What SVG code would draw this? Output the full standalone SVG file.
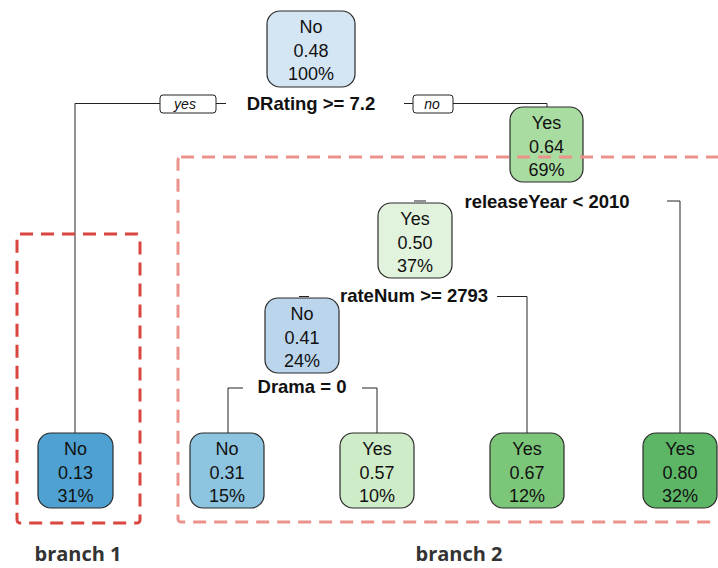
<svg xmlns="http://www.w3.org/2000/svg" width="718" height="568" viewBox="0 0 718 568">
  <style>
    .node rect { stroke: #2b2b2b; stroke-width: 1.2; }
    .node text { font-family: "Liberation Sans", Arial, sans-serif; font-size: 18px; fill: #111; text-anchor: middle; }
    .split { font-family: "Liberation Sans", Arial, sans-serif; font-size: 18.5px; font-weight: bold; fill: #111; text-anchor: middle; }
    .edge { fill: none; stroke: #222; stroke-width: 1; }
    .tag rect { fill: #fff; stroke: #222; stroke-width: 1; }
    .tag text { font-family: "Liberation Sans", Arial, sans-serif; font-size: 14px; font-style: italic; fill: #111; text-anchor: middle; }
    .branch { fill: none; stroke-width: 3; stroke-dasharray: 13 8; }
    .caption { font-family: "Open Sans", "Noto Sans", sans-serif; font-size: 20px; font-weight: bold; fill: #333; text-anchor: middle; }
  </style>

  <!-- connectors -->
  <g id="connectors">
    <!-- root split -->
    <path class="edge" d="M75,433 V103.5 H160"/>
    <path class="edge" d="M216,103.5 H226"/>
    <path class="edge" d="M404,103.5 H413"/>
    <path class="edge" d="M453,103.5 H547 V108"/>
    <!-- releaseYear split -->
    <path class="edge" d="M414,201 H426"/>
    <path class="edge" d="M667,201 H680 V433"/>
    <!-- rateNum split -->
    <path class="edge" d="M299,296.5 H309"/>
    <path class="edge" d="M497,296.5 H527 V433"/>
    <!-- Drama split -->
    <path class="edge" d="M243,388 H228 V433"/>
    <path class="edge" d="M362,388 H377 V433"/>
    <!-- yes / no tags -->
    <g class="tag">
      <rect x="160" y="95" width="56" height="18" rx="3"/>
      <text x="185" y="109">yes</text>
    </g>
    <g class="tag">
      <rect x="413" y="95" width="40" height="18" rx="3"/>
      <text x="432" y="109">no</text>
    </g>
  </g>

  <!-- split labels -->
  <text class="split" x="311" y="110">DRating &gt;= 7.2</text>
  <text class="split" x="547" y="208">releaseYear &lt; 2010</text>
  <text class="split" x="414" y="302">rateNum &gt;= 2793</text>
  <text class="split" x="302" y="393">Drama = 0</text>

  <!-- internal nodes -->
  <g id="node-root" class="node">
    <rect x="267" y="11" width="88" height="76" rx="13" fill="#d4e6f4"/>
    <text x="311" y="33">No</text>
    <text x="311" y="56.5">0.48</text>
    <text x="311" y="80">100%</text>
  </g>
  <g id="node-yes064" class="node">
    <rect x="510" y="107" width="73" height="75" rx="13" fill="#a9dca1"/>
    <text x="546.5" y="129">Yes</text>
    <text x="546.5" y="152.5">0.64</text>
    <text x="546.5" y="176">69%</text>
  </g>
  <g id="node-yes050" class="node">
    <rect x="378" y="203" width="74" height="75" rx="13" fill="#e1f3dc"/>
    <text x="415" y="225">Yes</text>
    <text x="415" y="248.5">0.50</text>
    <text x="415" y="272">37%</text>
  </g>
  <g id="node-no041" class="node">
    <rect x="265" y="298" width="74" height="75" rx="13" fill="#bbd5ec"/>
    <text x="302" y="320">No</text>
    <text x="302" y="343.5">0.41</text>
    <text x="302" y="367">24%</text>
  </g>

  <!-- leaves -->
  <g id="leaf-no013" class="node">
    <rect x="38" y="433" width="75" height="75" rx="13" fill="#4ea1d0"/>
    <text x="75.5" y="455">No</text>
    <text x="75.5" y="478.5">0.13</text>
    <text x="75.5" y="502">31%</text>
  </g>
  <g id="leaf-no031" class="node">
    <rect x="190" y="433" width="74" height="75" rx="13" fill="#8dc4df"/>
    <text x="227" y="455">No</text>
    <text x="227" y="478.5">0.31</text>
    <text x="227" y="502">15%</text>
  </g>
  <g id="leaf-yes057" class="node">
    <rect x="340" y="433" width="74" height="75" rx="13" fill="#cfecc8"/>
    <text x="377" y="455">Yes</text>
    <text x="377" y="478.5">0.57</text>
    <text x="377" y="502">10%</text>
  </g>
  <g id="leaf-yes067" class="node">
    <rect x="490" y="433" width="74" height="75" rx="13" fill="#7cc67a"/>
    <text x="527" y="455">Yes</text>
    <text x="527" y="478.5">0.67</text>
    <text x="527" y="502">12%</text>
  </g>
  <g id="leaf-yes080" class="node">
    <rect x="643" y="433" width="74" height="75" rx="13" fill="#5db566"/>
    <text x="680" y="455">Yes</text>
    <text x="680" y="478.5">0.80</text>
    <text x="680" y="502">32%</text>
  </g>

  <!-- branch outlines -->
  <g id="branch-1">
    <rect class="branch" x="17" y="234" width="123" height="289" rx="3" stroke="#d9453f"/>
    <text class="caption" x="78" y="561">branch 1</text>
  </g>
  <g id="branch-2">
    <rect class="branch" x="178" y="157" width="580" height="365" rx="3" stroke="#eb928c"/>
    <text class="caption" x="459" y="561">branch 2</text>
  </g>
</svg>
